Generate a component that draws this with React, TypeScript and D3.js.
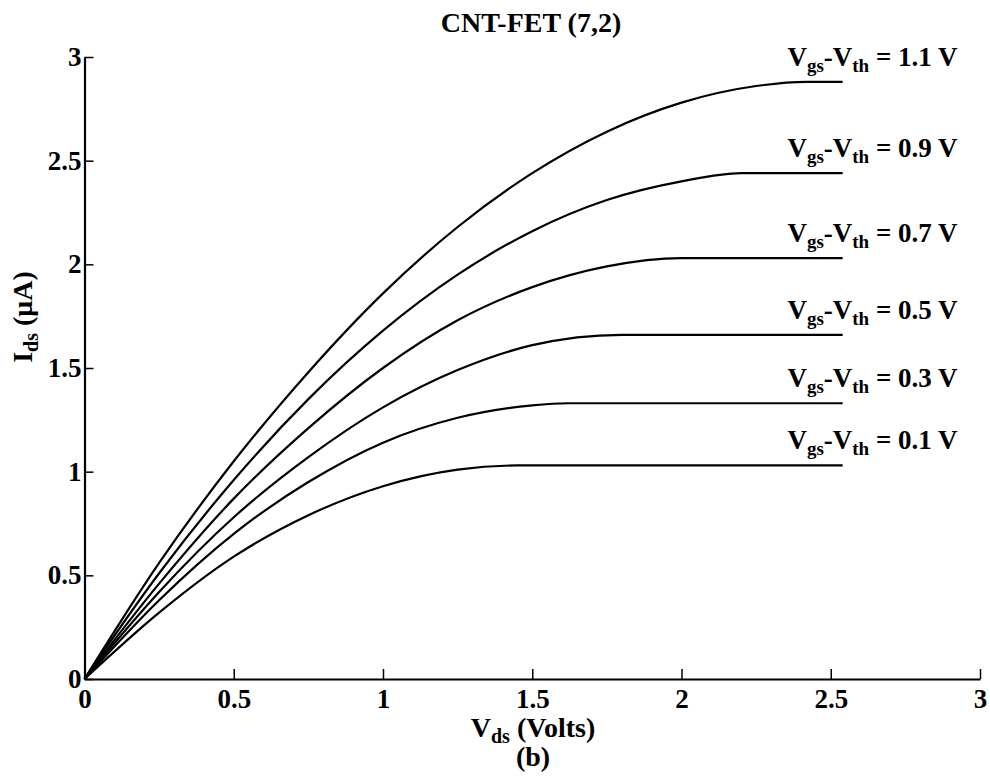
import { useEffect, useRef } from "react"
import * as d3 from "d3"

// Ids (uA) vs Vds (V)
const curve11: [number, number][] = [[0, 0], [0.25, 0.56], [0.5, 1.05], [0.75, 1.48], [1, 1.86], [1.25, 2.18], [1.5, 2.44], [1.75, 2.64], [2, 2.78], [2.25, 2.86], [2.42, 2.88], [2.54, 2.88]]
const curve09: [number, number][] = [[0, 0], [0.25, 0.51], [0.5, 0.96], [0.75, 1.35], [1, 1.68], [1.25, 1.95], [1.5, 2.16], [1.75, 2.31], [2, 2.4], [2.2, 2.44], [2.54, 2.44]]
const curve07: [number, number][] = [[0, 0], [0.25, 0.46], [0.5, 0.87], [0.75, 1.21], [1, 1.5], [1.25, 1.73], [1.5, 1.89], [1.75, 1.99], [2.0, 2.03], [2.54, 2.03]]
const curve05: [number, number][] = [[0, 0], [0.25, 0.42], [0.5, 0.78], [0.75, 1.07], [1, 1.31], [1.25, 1.49], [1.5, 1.61], [1.8, 1.66], [2.54, 1.66]]
const curve03: [number, number][] = [[0, 0], [0.25, 0.38], [0.5, 0.7], [0.75, 0.95], [1, 1.14], [1.25, 1.26], [1.5, 1.32], [1.62, 1.33], [2.54, 1.33]]
const curve01: [number, number][] = [[0, 0], [0.25, 0.32], [0.5, 0.59], [0.75, 0.79], [1, 0.93], [1.25, 1.01], [1.45, 1.03], [2.54, 1.03]]

const curves = [curve11, curve09, curve07, curve05, curve03, curve01]
const overdrive = ["1.1", "0.9", "0.7", "0.5", "0.3", "0.1"]

const xTicks = [0, 0.5, 1, 1.5, 2, 2.5, 3]
const yTicks = [0, 0.5, 1, 1.5, 2, 2.5, 3]

const W = 990
const H = 779
const FONT = "'Liberation Serif', 'Times New Roman', serif"

export default function App() {
    const xAxisRef = useRef<SVGGElement>(null)
    const yAxisRef = useRef<SVGGElement>(null)

    const x = d3.scaleLinear().domain([0, 3]).range([84.5, 980])
    const y = d3.scaleLinear().domain([0, 3]).range([679, 57])

    const line = d3.line<[number, number]>()
        .x(d => x(d[0]))
        .y(d => y(d[1]))
        .curve(d3.curveMonotoneX)

    useEffect(() => {
        const fmt = (d: d3.NumberValue) => String(+d)

        const gx = d3.select(xAxisRef.current!)
        gx.selectAll("*").remove()
        gx.call(
            d3.axisBottom(x)
                .tickValues(xTicks)
                .tickFormat(fmt)
                .tickSizeInner(-10)
                .tickSizeOuter(0)
                .tickPadding(10)
        )

        const gy = d3.select(yAxisRef.current!)
        gy.selectAll("*").remove()
        gy.call(
            d3.axisLeft(y)
                .tickValues(yTicks)
                .tickFormat(fmt)
                .tickSizeInner(-9)
                .tickSizeOuter(0)
                .tickPadding(3)
        )

        for (const g of [gx, gy]) {
            g.attr("font-family", FONT).attr("font-size", 27).attr("font-weight", "bold")
            g.selectAll("path.domain").attr("stroke", "#000").attr("stroke-width", 2.2)
            g.selectAll(".tick line").attr("stroke", "#000").attr("stroke-width", 1.5)
            g.selectAll(".tick text").attr("fill", "#000")
        }
    }, [])

    return (
        <svg
            width={W}
            height={H}
            style={{ position: "absolute", left: 0, top: 0, background: "#fff" }}
            fontFamily={FONT}
            fontWeight="bold"
        >
            <g ref={xAxisRef} transform={`translate(0,${y(0)})`} />
            <g ref={yAxisRef} transform={`translate(${x(0)},0)`} />

            {curves.map((c, i) => (
                <path
                    key={i}
                    d={line(c) ?? ""}
                    fill="none"
                    stroke="#000"
                    strokeWidth={2.2}
                    strokeLinejoin="round"
                />
            ))}

            {curves.map((c, i) => (
                <text
                    key={"l" + i}
                    x={x(2.925)}
                    y={y(c[c.length - 1][1]) - 16}
                    textAnchor="end"
                    fontSize={27}
                >
                    V<tspan fontSize={19} dy={6}>gs</tspan>
                    <tspan dy={-6}>-V</tspan>
                    <tspan fontSize={19} dy={6}>th</tspan>
                    <tspan dy={-6}>{` = ${overdrive[i]} V`}</tspan>
                </text>
            ))}

            <text x={531} y={32} textAnchor="middle" fontSize={28}>CNT-FET (7,2)</text>

            <text x={533} y={737} textAnchor="middle" fontSize={28}>
                V<tspan fontSize={20} dy={6}>ds</tspan>
                <tspan dy={-6}> (Volts)</tspan>
            </text>
            <text x={533} y={766} textAnchor="middle" fontSize={28}>(b)</text>

            <text transform={`translate(32,317) rotate(-90)`} textAnchor="middle" fontSize={28}>
                I<tspan fontSize={20} dy={6}>ds</tspan>
                <tspan dy={-6}> (μA)</tspan>
            </text>
        </svg>
    )
}
